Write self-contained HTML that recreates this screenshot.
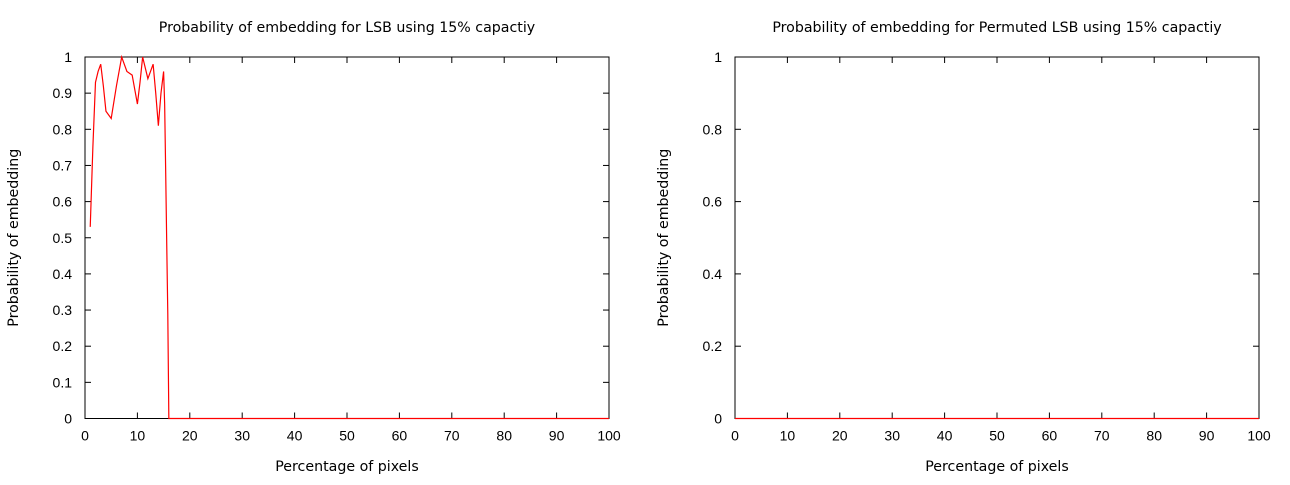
<!DOCTYPE html>
<html><head><meta charset="utf-8"><style>
body{margin:0;background:#fff;}
svg text{font-family:"Liberation Sans",sans-serif;font-size:14px;fill:#000;}
svg text.lbl{font-family:"DejaVu Sans",sans-serif;font-size:14.2px;}
</style></head><body>
<svg id="s" width="1290" height="480" xmlns="http://www.w3.org/2000/svg"></svg>
<script>
const xTicks=[0,10,20,30,40,50,60,70,80,90,100];
const yTicksLeft=[0,0.1,0.2,0.3,0.4,0.5,0.6,0.7,0.8,0.9,1];
const yTicksRight=[0,0.2,0.4,0.6,0.8,1];
const yTickLabelsLeft=["0","0.1","0.2","0.3","0.4","0.5","0.6","0.7","0.8","0.9","1"];
const yTickLabelsRight=["0","0.2","0.4","0.6","0.8","1"];
const lsbX=[1,1.5,2,2.5,3,3.5,4,5,6,7,8,9,10,10.5,11,12,13,13.5,14,14.5,15,15.2,15.4,15.6,15.8,16,20,30,40,50,60,70,80,90,100];
const lsbY=[0.53,0.75,0.93,0.96,0.98,0.92,0.85,0.83,0.92,1.0,0.96,0.95,0.87,0.93,1.0,0.94,0.98,0.90,0.81,0.90,0.96,0.87,0.68,0.48,0.29,0.0,0,0,0,0,0,0,0,0,0];
const permX=[0,10,20,30,40,50,60,70,80,90,100];
const permY=[0,0,0,0,0,0,0,0,0,0,0];
const NS="http://www.w3.org/2000/svg";
const svg=document.getElementById('s');
function mk(t,a,p){const e=document.createElementNS(NS,t);for(const k in a)e.setAttribute(k,a[k]);(p||svg).appendChild(e);return e;}
function plot(name,x0,x1,y0,y1,title,yt,ytl,xs,ys){
  const g=mk('g',{});
  
  
  const sx=v=>x0+(x1-x0)*v/100, sy=v=>y0-(y0-y1)*v;
  yt.forEach((v,i)=>{
    const y=sy(v);
    const t1=mk('line',{x1:x0,x2:x0+6,y1:y,y2:y,stroke:'#000'},g);
    
    
    mk('line',{x1:x1-6,x2:x1,y1:y,y2:y,stroke:'#000'},g);
    const t=mk('text',{x:x0-13,y:y+5,'text-anchor':'end'},g);t.textContent=ytl[i];
    
    
  });
  xTicks.forEach(v=>{
    const x=sx(v);
    mk('line',{x1:x,x2:x,y1:y0,y2:y0-6,stroke:'#000'},g);
    mk('line',{x1:x,x2:x,y1:y1,y2:y1+6,stroke:'#000'},g);
    const t=mk('text',{x:x,y:y0+22,'text-anchor':'middle'},g);t.textContent=v;
    
    
  });
  const fr=mk('rect',{x:x0,y:y1,width:x1-x0,height:y0-y1,fill:'none',stroke:'#000'},g);
  
  
  const pl=mk('polyline',{points:xs.map((v,i)=>sx(v)+','+sy(ys[i])).join(' '),fill:'none',stroke:'#f00','stroke-width':1.2},g);
  
  
  const tt=mk('text',{x:(x0+x1)/2,y:32,'text-anchor':'middle',class:'lbl'},g);tt.textContent=title;
  
  
  const xl=mk('text',{x:(x0+x1)/2,y:471,'text-anchor':'middle',class:'lbl'},g);xl.textContent='Percentage of pixels';
  
  
  const cy=(y0+y1)/2, cx=x0-67;
  const yl=mk('text',{x:cx,y:cy,'text-anchor':'middle',class:'lbl',transform:`rotate(-90 ${cx} ${cy})`},g);yl.textContent='Probability of embedding';
  
  
}
plot('lsb-chart',85,609,418.5,57,'Probability of embedding for LSB using 15% capactiy',yTicksLeft,yTickLabelsLeft,lsbX,lsbY);
plot('permuted-lsb-chart',735,1259,418.5,57,'Probability of embedding for Permuted LSB using 15% capactiy',yTicksRight,yTickLabelsRight,permX,permY);
</script>
</body></html>
